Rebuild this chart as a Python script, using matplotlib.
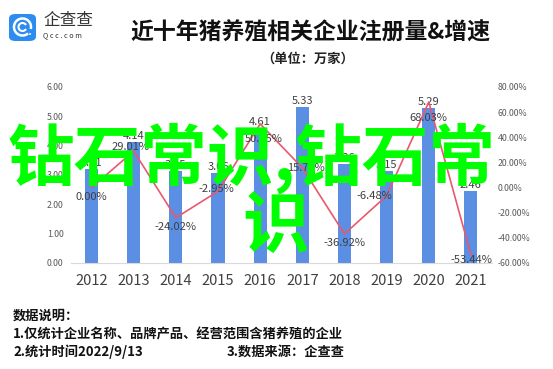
import matplotlib
matplotlib.use('Agg')
import matplotlib.pyplot as plt
from matplotlib.patches import FancyBboxPatch, Circle, Arc

plt.rcParams['font.family'] = ['Noto Sans CJK SC', 'DejaVu Sans']

# 数据
years = ['2012', '2013', '2014', '2015', '2016', '2017', '2018', '2019', '2020', '2021']
counts = [3.21, 4.14, 3.15, 3.06, 4.61, 5.33, 3.36, 3.15, 5.29, 2.46]   # 万家
growth = [0.00, 29.01, -24.02, -2.95, 50.65, 15.70, -36.92, -6.48, 68.03, -53.44]  # %
left_ticks = [0, 1, 2, 3, 4, 5, 6]
right_ticks = [-60, -40, -20, 0, 20, 40, 60, 80]

title = '近十年猪养殖相关企业注册量&增速'
subtitle = '（单位：万家）'
notes = ['数据说明：', '1.仅统计企业名称、品牌产品、经营范围含猪养殖的企业', '2.统计时间2022/9/13']
source = '3.数据来源：企查查'
watermark = ['钻石常识,钻石常', '识']

# 增速标签偏移（像素）
growth_offsets = [(0, -9), (-3, 4), (0, -9), (-2, 2), (3, -15),
                  (4, 0), (0, -9), (-12, 0), (0, -16), (0, -5)]

BAR_C = '#5B8FE3'
LINE_C = '#E9586D'
TXT_C = '#404040'

fig = plt.figure(figsize=(5.53, 3.69), dpi=100)
W, H = 553, 369
ax = fig.add_axes([70.5 / W, 1 - 263 / H, (492 - 70.5) / W, (263 - 87) / H])
x = list(range(len(years)))

ax.bar(x, counts, width=0.31, color=BAR_C, zorder=2)
ax.set_xlim(-0.5, len(years) - 0.5)
ax.set_ylim(0, 6)
ax.set_yticks(left_ticks)
ax.set_yticklabels([f'{v:.2f}' for v in left_ticks], fontsize=6.3, color='#595959')
ax.set_xticks(x)
ax.set_xticklabels(years, fontsize=10.5, color=TXT_C)
ax.tick_params(axis='both', length=0)
ax.tick_params(axis='y', pad=5)
ax.tick_params(axis='x', pad=8)
for s in ['top', 'right', 'left']:
    ax.spines[s].set_visible(False)
ax.spines['bottom'].set_color('#D9D9D9')

for xi, v in zip(x, counts):
    ax.annotate(f'{v:.2f}', (xi, v), xytext=(0, 1), textcoords='offset pixels',
                ha='center', va='bottom', fontsize=8, color=TXT_C, zorder=3)

ax2 = ax.twinx()
ax2.plot(x, growth, color=LINE_C, lw=1.2, zorder=3)
ax2.set_ylim(-60, 80)
ax2.set_yticks(right_ticks)
ax2.set_yticklabels([f'{v:.2f}%' for v in right_ticks], fontsize=6.3, color='#595959')
ax2.tick_params(axis='y', length=0, pad=4)
for s in ax2.spines.values():
    s.set_visible(False)

for xi, g, off in zip(x, growth, growth_offsets):
    ax2.annotate(f'{g:.2f}%', (xi, g), xytext=off, textcoords='offset pixels',
                 ha='center', va='center', fontsize=8, color=TXT_C, zorder=4)

# 标题
fig.text(310 / W, 1 - 33 / H, title, ha='center', va='center',
         fontsize=16.5, fontweight='bold', color='#111111')
fig.text(308 / W, 1 - 59 / H, subtitle, ha='center', va='center',
         fontsize=9.5, fontweight='bold', color='#222222')

# logo
logo = FancyBboxPatch((9 / W, 1 - 41 / H), 27 / W, 27 / H,
                      boxstyle='round,pad=0,rounding_size=0.012',
                      transform=fig.transFigure, facecolor='#2D8CF0', edgecolor='none')
fig.patches.append(logo)
fig.patches.append(Arc((22.5 / W, 1 - 27 / H), 17 / W, 17 / H, theta1=-20, theta2=300,
                       transform=fig.transFigure, color='white', lw=1.8))
fig.patches.append(Arc((22.5 / W, 1 - 27 / H), 8 / W, 8 / H, theta1=40, theta2=320,
                       transform=fig.transFigure, color='white', lw=1.5))
fig.patches.append(Circle((30 / W, 1 - 34 / H), 1.2 / W, transform=fig.transFigure,
                          facecolor='white', edgecolor='none'))
fig.text(43 / W, 1 - 20 / H, '企查查', ha='left', va='center', fontsize=12, color='#333333')
fig.text(43 / W, 1 - 35 / H, 'Q c c . c o m', ha='left', va='center', fontsize=5.2, color='#333333')

# 数据说明
fig.text(13 / W, 1 - 316 / H, notes[0], ha='left', va='center', fontsize=9.5,
         fontweight='bold', color='#111111')
fig.text(13 / W, 1 - 334 / H, notes[1], ha='left', va='center', fontsize=9.5,
         fontweight='bold', color='#111111')
fig.text(13 / W, 1 - 352 / H, notes[2], ha='left', va='center', fontsize=9.5,
         fontweight='bold', color='#111111')
fig.text(227 / W, 1 - 352 / H, source, ha='left', va='center', fontsize=9.5,
         fontweight='bold', color='#111111')

# 水印
fig.text(8 / W, 1 - 158 / H, watermark[0], ha='left', va='center',
         fontsize=48, fontweight='bold', color='#00FF00', zorder=10)
fig.text(276 / W, 1 - 227 / H, watermark[1], ha='center', va='center',
         fontsize=48, fontweight='bold', color='#00FF00', zorder=10)

fig.savefig('out.png', dpi=100)
